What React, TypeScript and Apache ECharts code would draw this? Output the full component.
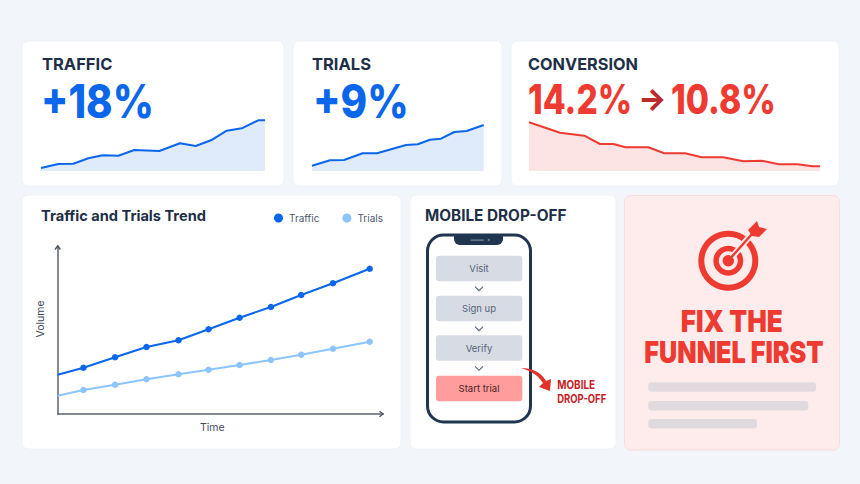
import { useEffect, useRef } from "react";
import * as echarts from "echarts";

// sparkline cards
const trafficSparkX = [0, 17.3, 32.3, 47.3, 61.7, 77.3, 93.3, 118.3, 139, 154.7, 170, 185.7, 200.7, 217.3, 224];
const trafficSpark = [3, 7, 7.3, 12.7, 15.7, 15.3, 21, 20, 27.7, 25, 30.7, 40.3, 42.7, 50.7, 50.7];
const trialsSparkX = [0, 18, 32, 50.7, 65, 94, 105.7, 118, 129, 142.3, 154.7, 171.7];
const trialsSpark = [5.3, 10.7, 11, 17.7, 17.7, 26, 26.7, 31.3, 32.3, 39, 40, 46];
const conversionSparkX = [0, 31, 55.3, 71, 84.3, 96.7, 119.3, 135.3, 156, 172.7, 194.3, 214.3, 232.7, 250, 268.7, 283.3, 291];
const conversionSpark = [48.7, 38.3, 35.3, 27, 27, 23.7, 23.7, 17.7, 17.7, 13.7, 13.7, 9.7, 10.3, 6.7, 6.7, 4.7, 4.7];

// trend chart
const trendTime = [0, 25.7, 57.3, 88.7, 120.7, 150.7, 181.7, 213, 243.3, 275, 311.7];
const trendTraffic = [39.3, 46.3, 56.7, 67, 73.7, 84.7, 96.3, 107, 119, 130.7, 145.3];
const trendTrials = [18.3, 24, 29.3, 34.7, 39.7, 44.3, 49, 54, 59.3, 65.3, 72.3];

const funnelSteps = ["Visit", "Sign up", "Verify", "Start trial"];

const FONT = "Inter";
const NAVY = "#1e2f47";
const BLUE = "#0a66ea";
const LIGHT_BLUE = "#8cc4fd";
const RED = "#ee3a30";

echarts.graphic.registerShape(
  "dropArrow",
  echarts.graphic.extendPath(
    "M521 368 C532 368 541 372 546 381 L551 379 L550 391 L539 387 L543 383 C538 375 531 371 521 368Z",
    {}
  ) as any
);
echarts.graphic.registerShape(
  "fletching",
  echarts.graphic.extendPath("M748 230 L757 221 L759 227 L767 229 L759 237 L752 236Z", {}) as any
);

const pairs = (xs: number[], ys: number[]) => xs.map((x, i) => [x, ys[i]]);

const card = (x: number, y: number, width: number, height: number) => ({
  type: "rect",
  z: -5,
  shape: { x, y, width, height, r: 6 },
  style: { fill: "#ffffff", stroke: "#eef2f6", lineWidth: 1 },
});

const label = (x: number, y: number, text: string, size: number, weight: number, fill: string, scaleX = 1, extra: any = {}) => ({
  type: "text",
  z: 5,
  x,
  y,
  scaleX,
  style: { text, fontFamily: FONT, fontSize: size, fontWeight: weight, fill, textVerticalAlign: "middle", textAlign: "left", ...extra },
});

const sparkGrid = (left: number, width: number) => ({ left, width, top: 111, height: 60 });

const sparkAxes = (gridIndex: number, max: number) => ({
  x: { type: "value", gridIndex, min: 0, max, show: false },
  y: { type: "value", gridIndex, min: 0, max: 60, show: false },
});

const sparkSeries = (gridIndex: number, data: number[][], color: string, area: string) => ({
  type: "line",
  xAxisIndex: gridIndex,
  yAxisIndex: gridIndex,
  data,
  symbol: "none",
  silent: true,
  lineStyle: { color, width: 2 },
  areaStyle: { color: area, opacity: 1 },
});

const trendSeries = (name: string, ys: number[], color: string) => ({
  name,
  type: "line",
  xAxisIndex: 3,
  yAxisIndex: 3,
  // the line starts on the axis without a marker
  data: trendTime.map((t, i) => (i === 0 ? { value: [t, ys[i]], symbol: "none" } : { value: [t, ys[i]] })),
  symbol: "circle",
  symbolSize: 6.5,
  lineStyle: { color, width: 2 },
  itemStyle: { color },
});

const buildGraphics = () => {
  const rowTops = [255.7, 295.7, 335.3, 375.7];
  const els: any[] = [
    card(22, 41, 262, 145),
    card(293, 41, 209, 145),
    card(511, 41, 328, 145),
    card(22, 195, 379, 254),
    card(410, 195, 206, 254),
    {
      type: "rect",
      z: -5,
      shape: { x: 624.5, y: 195.5, width: 215, height: 254.5, r: 6 },
      style: { fill: "#feecec", stroke: "#fbdcdc", lineWidth: 1 },
    },

    label(42, 63.5, "TRAFFIC", 16.5, 700, NAVY),
    label(41, 101, "+18%", 46, 800, BLUE, 0.87),
    label(312, 63.5, "TRIALS", 16.5, 700, NAVY),
    label(313, 101, "+9%", 46, 800, BLUE, 0.875),
    label(528, 63.5, "CONVERSION", 16.3, 700, NAVY),
    label(528, 99, "14.2%", 41, 800, RED, 0.815),
    label(638, 99, "→", 30, 800, "#b92c2c"),
    label(671, 99, "10.8%", 41, 800, RED, 0.82),

    // axis arrow heads
    { type: "polyline", z: 5, shape: { points: [[55, 249.5], [57.7, 246], [60.4, 249.5]] }, style: { stroke: "#4b5563", lineWidth: 1.4, fill: "none" } },
    { type: "polyline", z: 5, shape: { points: [[379.5, 411.3], [383, 414], [379.5, 416.7]] }, style: { stroke: "#4b5563", lineWidth: 1.4, fill: "none" } },

    // phone
    label(425, 215.7, "MOBILE DROP-OFF", 15.3, 700, NAVY),
    {
      type: "rect",
      z: 1,
      shape: { x: 427.5, y: 235, width: 103, height: 187, r: 16 },
      style: { fill: "#ffffff", stroke: "#1f3550", lineWidth: 3 },
    },
    {
      type: "rect",
      z: 2,
      shape: { x: 454, y: 234, width: 49, height: 11, r: [0, 0, 6, 6] },
      style: { fill: "#1f3550" },
    },
    { type: "rect", z: 3, shape: { x: 470.5, y: 239.5, width: 13.5, height: 1.2, r: 0.6 }, style: { fill: "#7b8799" } },
    { type: "circle", z: 3, shape: { cx: 488.7, cy: 240, r: 1 }, style: { fill: "#7b8799" } },
    { type: "dropArrow", z: 4, style: { fill: "#e0322b" } },
    label(557.3, 385, "MOBILE", 11.5, 700, "#c52026", 0.86),
    label(557.3, 399, "DROP-OFF", 11.5, 700, "#c52026", 0.82),

    // target icon
    { type: "ring", z: 1, shape: { cx: 728.3, cy: 260.7, r: 30, r0: 24 }, style: { fill: RED } },
    { type: "ring", z: 1, shape: { cx: 728.3, cy: 260.7, r: 15, r0: 9.5 }, style: { fill: RED } },
    { type: "circle", z: 1, shape: { cx: 728.3, cy: 260.7, r: 5.7 }, style: { fill: RED } },
    { type: "line", z: 2, shape: { x1: 732, y1: 257, x2: 750, y2: 236 }, style: { stroke: "#feecec", lineWidth: 6 } },
    { type: "line", z: 3, shape: { x1: 728.3, y1: 260.7, x2: 752, y2: 234 }, style: { stroke: RED, lineWidth: 2.4 } },
    { type: "fletching", z: 3, style: { fill: RED } },

    label(731.7, 321, "FIX THE", 30, 900, RED, 0.87, { textAlign: "center" }),
    label(734, 352.5, "FUNNEL FIRST", 30, 900, RED, 0.84, { textAlign: "center" }),
    { type: "rect", z: 1, shape: { x: 648.3, y: 382.3, width: 167.7, height: 9.4, r: 3 }, style: { fill: "#e0dade" } },
    { type: "rect", z: 1, shape: { x: 648.3, y: 401, width: 160, height: 9.4, r: 3 }, style: { fill: "#e0dade" } },
    { type: "rect", z: 1, shape: { x: 648.3, y: 419, width: 108.7, height: 9.4, r: 3 }, style: { fill: "#e0dade" } },
  ];

  funnelSteps.forEach((step, i) => {
    const last = i === funnelSteps.length - 1;
    els.push({
      type: "rect",
      z: 3,
      shape: { x: 436, y: rowTops[i], width: 86.3, height: 25.5, r: 3 },
      style: { fill: last ? "#ff9c9c" : "#d6dbe4" },
    });
    els.push(
      label(479, rowTops[i] + 12.7, step, 9.5, 400, last ? "#4d1f24" : "#56627a", 1, { textAlign: "center" })
    );
    if (!last) {
      const cy = rowTops[i] + 33;
      els.push({
        type: "polyline",
        z: 3,
        shape: { points: [[475, cy - 2], [479, cy + 2], [483, cy - 2]] },
        style: { stroke: "#56627a", lineWidth: 1.1, fill: "none" },
      });
    }
  });

  return els;
};

const App = () => {
  const chartRef = useRef<HTMLDivElement>(null);

  useEffect(() => {
    if (!chartRef.current) return;
    const myChart = echarts.init(chartRef.current, undefined, { renderer: "svg" });

    const a0 = sparkAxes(0, 224);
    const a1 = sparkAxes(1, 171.7);
    const a2 = sparkAxes(2, 291);

    const option: any = {
      animation: false,
      backgroundColor: "#f2f5f9",
      title: {
        text: "Traffic and Trials Trend",
        left: 36,
        top: 203,
        textStyle: { fontFamily: FONT, fontSize: 14.6, fontWeight: 700, color: NAVY },
      },
      legend: {
        left: 269,
        top: 208,
        itemWidth: 9,
        itemHeight: 9,
        itemGap: 23,
        icon: "circle",
        data: ["Traffic", "Trials"],
        textStyle: { fontFamily: FONT, fontSize: 10, color: "#4b5870", padding: [0, 0, 0, 1] },
        selectedMode: false,
      },
      grid: [
        sparkGrid(41, 224),
        sparkGrid(312, 171.7),
        sparkGrid(529, 291),
        { left: 57.7, top: 246, width: 325.3, height: 168 },
      ],
      xAxis: [
        a0.x,
        a1.x,
        a2.x,
        {
          type: "value",
          gridIndex: 3,
          min: 0,
          max: 325,
          name: "Time",
          nameLocation: "middle",
          nameGap: 8,
          nameTextStyle: { fontFamily: FONT, fontSize: 10.5, color: "#3f4a5c", padding: [0, 16, 0, 0] },
          axisLine: { show: true, lineStyle: { color: "#5a6472", width: 1.5 } },
          axisTick: { show: false },
          axisLabel: { show: false },
          splitLine: { show: false },
        },
      ],
      yAxis: [
        a0.y,
        a1.y,
        a2.y,
        {
          type: "value",
          gridIndex: 3,
          min: 0,
          max: 168,
          name: "Volume",
          nameLocation: "middle",
          nameGap: 12,
          nameTextStyle: { fontFamily: FONT, fontSize: 10.5, color: "#3f4a5c", padding: [0, 0, 0, 22] },
          axisLine: { show: true, lineStyle: { color: "#5a6472", width: 1.5 } },
          axisTick: { show: false },
          axisLabel: { show: false },
          splitLine: { show: false },
        },
      ],
      series: [
        sparkSeries(0, pairs(trafficSparkX, trafficSpark), BLUE, "#dfeafb"),
        sparkSeries(1, pairs(trialsSparkX, trialsSpark), BLUE, "#dfeafb"),
        sparkSeries(2, pairs(conversionSparkX, conversionSpark), RED, "#fde4e4"),
        trendSeries("Traffic", trendTraffic, BLUE),
        trendSeries("Trials", trendTrials, LIGHT_BLUE),
      ],
      graphic: { elements: buildGraphics() },
    };
    myChart.setOption(option);

    return () => {
      myChart.dispose();
    };
  }, []);

  return <div ref={chartRef} style={{ position: "fixed", left: 0, top: 0, width: 860, height: 484 }}></div>;
};

export default App;
